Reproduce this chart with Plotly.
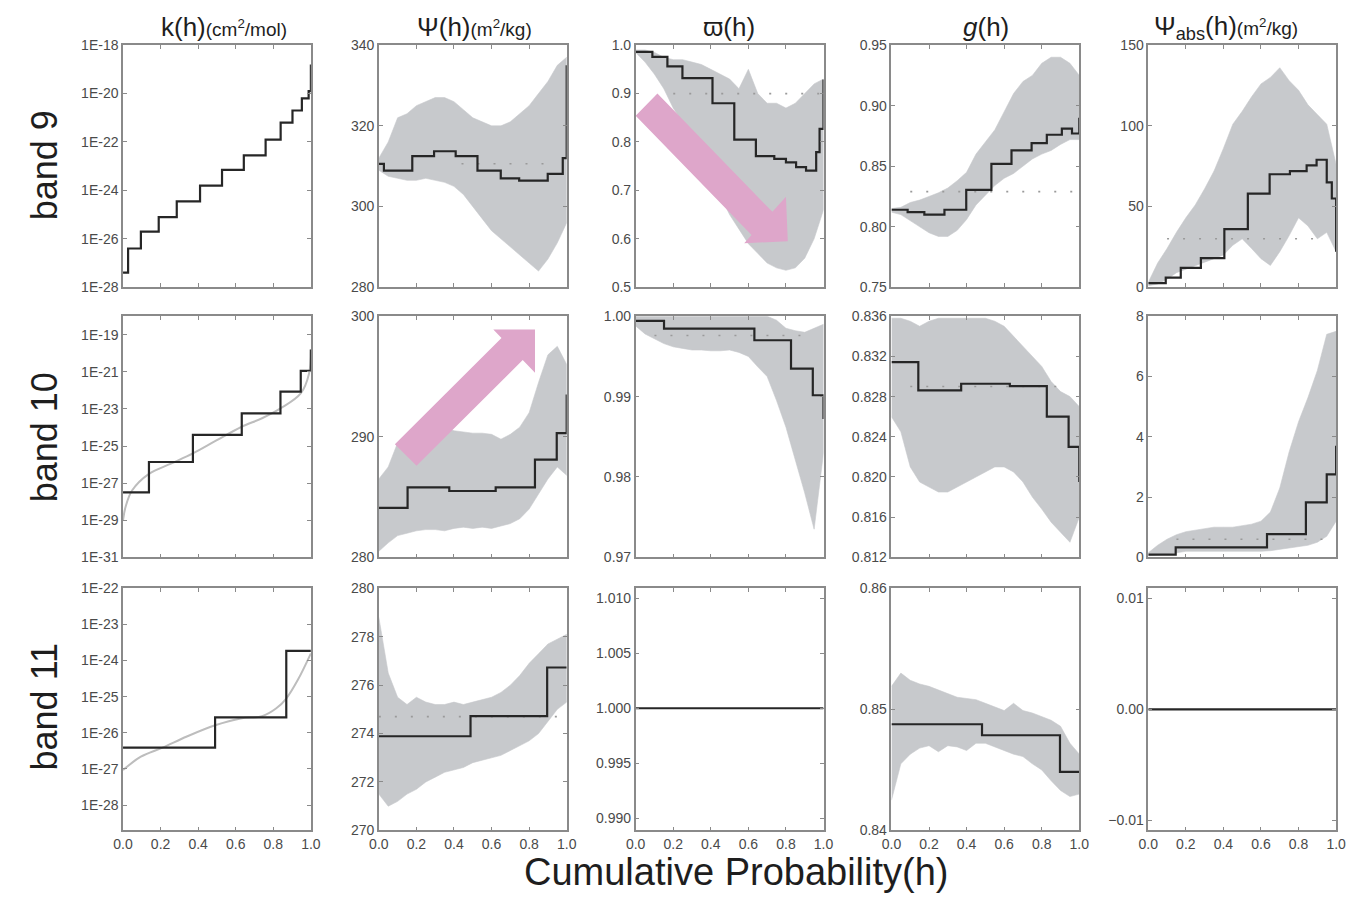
import plotly.graph_objects as go
from plotly.subplots import make_subplots

# the page is photographed with a small page margin and a slight scale; positions below are
# given as wanted picture pixels and converted to figure pixels here
PAGE_PAD = 8
SX, SY = 0.986, 0.982
FW, FH = 1358, 905


def px_x(x):
    return (x / SX - PAGE_PAD) / FW


def px_y(y):
    return 1 - (y / SY - PAGE_PAD) / FH


# ---------------- data ----------------
# cumulative probability positions at which the gray spread envelopes were read
g_pos = [0.0, 0.05, 0.1, 0.15, 0.2, 0.25, 0.3, 0.35, 0.4, 0.45, 0.5,
         0.55, 0.6, 0.65, 0.7, 0.75, 0.8, 0.85, 0.9, 0.95, 1.0]

x_tickvals = [0.0, 0.2, 0.4, 0.6, 0.8, 1.0]
x_ticktext = ["0.0", "0.2", "0.4", "0.6", "0.8", "1.0"]

column_titles = ["k(h)", "Ψ(h)", "ϖ(h)", "<i>g</i>(h)", "Ψ<sub>abs</sub>(h)"]
column_units = ["(cm<sup>2</sup>/mol)", "(m<sup>2</sup>/kg)", "", "", "(m<sup>2</sup>/kg)"]
row_titles = ["band 9", "band 10", "band 11"]
x_title = "Cumulative Probability(h)"

# ---- band 9 ----
b9_k_x = [0, 0.027, 0.095, 0.19, 0.286, 0.41, 0.527, 0.643, 0.759, 0.839, 0.902, 0.952, 0.988, 1.0]
b9_k_log10 = [-27.4, -26.4, -25.7, -25.1, -24.45, -23.8, -23.15, -22.55, -21.9, -21.2, -20.7, -20.2, -19.9, -18.8]

b9_psi_x = [0, 0.027, 0.178, 0.294, 0.409, 0.525, 0.649, 0.747, 0.899, 0.979, 1.0]
b9_psi_y = [310.6, 308.9, 312.5, 313.7, 312.5, 308.9, 307.0, 306.4, 308.1, 312.0, 335.0]
b9_psi_lo = [309, 307.5, 307, 306.5, 306.5, 307, 306.5, 306, 305, 303, 300, 297, 294, 292, 290, 288, 286, 284, 287, 291, 296]
b9_psi_hi = [312, 316, 322, 323, 325, 326, 327, 327, 326, 324, 322, 321, 320, 320, 321, 323, 325, 328, 331, 335, 337]
b9_psi_mean = [0.44, 0.9, 310.6]

b9_ssa_x = [0, 0.089, 0.169, 0.249, 0.409, 0.525, 0.64, 0.738, 0.80, 0.854, 0.907, 0.961, 0.979, 1.0]
b9_ssa_y = [0.986, 0.976, 0.956, 0.932, 0.88, 0.805, 0.771, 0.765, 0.758, 0.748, 0.741, 0.779, 0.827, 0.929]
b9_ssa_lo = [0.985, 0.965, 0.94, 0.91, 0.87, 0.84, 0.80, 0.77, 0.73, 0.69, 0.65, 0.62, 0.59, 0.57, 0.55, 0.54, 0.535, 0.54, 0.56, 0.6, 0.66]
b9_ssa_hi = [0.99, 0.99, 0.985, 0.975, 0.97, 0.97, 0.965, 0.96, 0.95, 0.94, 0.93, 0.91, 0.95, 0.9, 0.88, 0.88, 0.87, 0.88, 0.9, 0.92, 0.93]
b9_ssa_mean = [0.2, 1.0, 0.9]

b9_g_x = [0, 0.086, 0.175, 0.282, 0.398, 0.532, 0.639, 0.746, 0.827, 0.907, 0.961, 1.0]
b9_g_y = [0.814, 0.812, 0.810, 0.814, 0.8305, 0.852, 0.863, 0.869, 0.876, 0.881, 0.877, 0.89]
b9_g_lo = [0.812, 0.81, 0.805, 0.8, 0.795, 0.792, 0.792, 0.797, 0.806, 0.818, 0.826, 0.834, 0.84, 0.844, 0.85, 0.856, 0.86, 0.863, 0.868, 0.872, 0.872]
b9_g_hi = [0.815, 0.816, 0.82, 0.822, 0.825, 0.828, 0.832, 0.838, 0.845, 0.86, 0.87, 0.88, 0.895, 0.91, 0.92, 0.925, 0.935, 0.94, 0.94, 0.935, 0.925]
b9_g_mean = [0.1, 1.0, 0.829]

b9_abs_x = [0, 0.093, 0.173, 0.28, 0.405, 0.53, 0.646, 0.754, 0.843, 0.896, 0.95, 0.977, 1.0]
b9_abs_y = [2.5, 6, 12, 18, 36, 58, 70, 72, 75.5, 79, 65, 55, 22]
b9_abs_lo = [1, 2, 5, 9, 11, 13.5, 15.6, 17.7, 20, 26, 30, 24, 17.7, 13.5, 22, 32, 43, 38, 30, 34, 22]
b9_abs_hi = [3, 15, 24, 34, 43, 51, 61, 72, 86, 101, 109, 118, 126, 130, 136, 128, 122, 113, 107, 101, 76]
b9_abs_mean = [0.1, 0.9, 30]

# ---- band 10 ----
b10_k_x = [0, 0.138, 0.372, 0.632, 0.838, 0.946, 1.0]
b10_k_log10 = [-27.5, -25.86, -24.4, -23.24, -22.07, -20.95, -19.8]
b10_kcurve_x = [0, 0.013, 0.048, 0.138, 0.255, 0.372, 0.497, 0.632, 0.74, 0.838, 0.946, 0.99, 1.0]
b10_kcurve_log10 = [-29.0, -28.3, -27.4, -26.5, -25.95, -25.4, -24.7, -23.96, -23.5, -22.97, -22.16, -21.1, -19.8]

b10_psi_x = [0, 0.153, 0.375, 0.622, 0.831, 0.947, 1.0]
b10_psi_y = [284.1, 285.8, 285.5, 285.8, 288.1, 290.3, 293.5]
b10_psi_lo = [280.5, 281.2, 281.8, 282, 282.2, 282.3, 282.3, 282.2, 282.4, 282.5, 282.4, 282.5, 282.4, 282.6, 282.8, 283.2, 284, 285.2, 286.5, 287.5, 286.8]
b10_psi_hi = [286.5, 287.5, 289.5, 289.8, 290.2, 290.4, 290.8, 290.8, 290.5, 290.4, 290.3, 290.3, 290.2, 289.8, 290.2, 290.8, 292, 294.5, 296.8, 297.5, 296]

b10_ssa_x = [0, 0.151, 0.632, 0.827, 0.943, 1.0]
b10_ssa_y = [0.99942, 0.99846, 0.99701, 0.99349, 0.99017, 0.9872]
b10_ssa_lo = [0.9988, 0.9978, 0.9972, 0.9966, 0.9962, 0.996, 0.9958, 0.9958, 0.9957, 0.9957, 0.9958, 0.9955, 0.995, 0.9937, 0.9925, 0.9895, 0.9862, 0.982, 0.978, 0.9735, 0.983]
b10_ssa_hi = [1.0, 1.0, 1.0, 1.0, 1.0, 1.0, 1.0, 1.0, 1.0, 1.0, 1.0, 1.0, 1.0, 1.0, 1.0, 0.9995, 0.9985, 0.9982, 0.998, 0.9985, 0.999]
b10_ssa_mean = [0.1, 0.95, 0.9976]

b10_g_x = [0, 0.143, 0.371, 0.63, 0.827, 0.943, 1.0]
b10_g_y = [0.83143, 0.82862, 0.82928, 0.82905, 0.826, 0.823, 0.8195]
b10_g_lo = [0.826, 0.8245, 0.821, 0.8195, 0.819, 0.8185, 0.8185, 0.819, 0.8195, 0.82, 0.8205, 0.821, 0.821, 0.8205, 0.8195, 0.818, 0.8168, 0.8155, 0.8145, 0.8135, 0.816]
b10_g_hi = [0.8358, 0.8358, 0.8355, 0.835, 0.8355, 0.8358, 0.8358, 0.8358, 0.8358, 0.8358, 0.8358, 0.8355, 0.835, 0.834, 0.833, 0.832, 0.831, 0.8295, 0.8285, 0.828, 0.827]
b10_g_mean = [0.1, 0.95, 0.829]

b10_abs_x = [0, 0.146, 0.632, 0.839, 0.95, 1.0]
b10_abs_y = [0.09, 0.33, 0.77, 1.82, 2.75, 3.7]
b10_abs_lo = [0.05, 0.08, 0.1, 0.15, 0.2, 0.2, 0.2, 0.2, 0.2, 0.2, 0.2, 0.2, 0.2, 0.22, 0.25, 0.3, 0.35, 0.4, 0.5, 0.7, 1.2]
b10_abs_hi = [0.15, 0.4, 0.6, 0.75, 0.85, 0.9, 0.95, 1.0, 1.0, 1.0, 1.05, 1.1, 1.2, 1.5, 2.3, 3.5, 4.5, 5.3, 6.2, 7.4, 7.5]
b10_abs_mean = [0.15, 0.95, 0.6]

# ---- band 11 ----
b11_k_x = [0, 0.49, 0.869, 1.0]
b11_k_log10 = [-26.41, -25.57, -23.73, -23.73]
b11_kcurve_x = [0, 0.095, 0.21, 0.34, 0.49, 0.626, 0.74, 0.816, 0.869, 0.93, 1.0]
b11_kcurve_log10 = [-27.03, -26.66, -26.41, -26.1, -25.79, -25.6, -25.54, -25.32, -25.05, -24.54, -23.8]

b11_psi_x = [0, 0.488, 0.896, 1.0]
b11_psi_y = [273.89, 274.72, 276.73, 276.73]
b11_psi_lo = [271.5, 271.0, 271.2, 271.5, 271.7, 272.0, 272.2, 272.4, 272.5, 272.6, 272.8, 272.9, 273.0, 273.1, 273.3, 273.5, 273.7, 274.0, 274.5, 275.0, 275.3]
b11_psi_hi = [278.8, 276.5, 275.5, 275.2, 275.5, 275.3, 275.2, 275.2, 275.3, 275.2, 275.3, 275.4, 275.5, 275.7, 276, 276.4, 276.9, 277.3, 277.7, 277.9, 278.1]
b11_psi_mean = [0.0, 0.95, 274.7]

b11_ssa_x = [0, 1.0]
b11_ssa_y = [1.0, 1.0]

b11_g_x = [0, 0.482, 0.897, 1.0]
b11_g_y = [0.84877, 0.84786, 0.84483, 0.84483]
b11_g_lo = [0.8425, 0.8455, 0.8463, 0.8468, 0.847, 0.8465, 0.847, 0.8469, 0.8466, 0.8472, 0.8472, 0.8469, 0.8466, 0.8463, 0.8461, 0.8455, 0.845, 0.8441, 0.8433, 0.8428, 0.843]
b11_g_hi = [0.8519, 0.853, 0.8524, 0.8521, 0.8519, 0.8516, 0.8513, 0.851, 0.8509, 0.8508, 0.8505, 0.8502, 0.8499, 0.8505, 0.8499, 0.8497, 0.8494, 0.8491, 0.8486, 0.8472, 0.8463]

b11_abs_x = [0, 1.0]
b11_abs_y = [0.0, 0.0]

# axis ranges and ticks per panel (row, col)
y_ranges = {
    (1, 1): [-28, -18], (1, 2): [280, 340], (1, 3): [0.5, 1.0], (1, 4): [0.75, 0.95], (1, 5): [0, 150],
    (2, 1): [-31, -18], (2, 2): [280, 300], (2, 3): [0.97, 1.0], (2, 4): [0.812, 0.836], (2, 5): [0, 8],
    (3, 1): [-28.7, -22], (3, 2): [270, 280], (3, 3): [0.9889, 1.0109], (3, 4): [0.84, 0.86], (3, 5): [-0.0109, 0.0109],
}
y_ticks = {
    (1, 2): [280, 300, 320, 340], (1, 3): [0.5, 0.6, 0.7, 0.8, 0.9, 1.0], (1, 4): [0.75, 0.80, 0.85, 0.90, 0.95],
    (1, 5): [0, 50, 100, 150],
    (2, 2): [280, 290, 300], (2, 3): [0.97, 0.98, 0.99, 1.00], (2, 4): [0.812, 0.816, 0.820, 0.824, 0.828, 0.832, 0.836],
    (2, 5): [0, 2, 4, 6, 8],
    (3, 2): [270, 272, 274, 276, 278, 280], (3, 3): [0.990, 0.995, 1.000, 1.005, 1.010], (3, 4): [0.84, 0.85, 0.86],
    (3, 5): [-0.01, 0.0, 0.01],
}
y_tickformat = {
    (1, 2): "d", (1, 3): ".1f", (1, 4): ".2f", (1, 5): "d",
    (2, 2): "d", (2, 3): ".2f", (2, 4): ".3f", (2, 5): "d",
    (3, 2): "d", (3, 3): ".3f", (3, 4): ".2f", (3, 5): ".2f",
}
log_tick_exponents = {
    (1, 1): [-18, -20, -22, -24, -26, -28],
    (2, 1): [-19, -21, -23, -25, -27, -29, -31],
    (3, 1): [-22, -23, -24, -25, -26, -27, -28],
}

# ---------------- styling ----------------
FONT = "Liberation Sans, Arial, Helvetica, sans-serif"
BAND_GRAY = "#c7c9cc"
STEP_COLOR = "#262626"
FRAME = "#8a8a8a"
TICKTXT = "#4a4a4a"
PINK = "#dea6ca"

col_px = [(121, 309), (377, 565), (634, 822), (890, 1078), (1147, 1335)]
row_px = [(45, 287), (316, 557), (588, 830)]

fig = make_subplots(rows=3, cols=5)

panels = {
    (1, 1): dict(step=(b9_k_x, [10 ** v for v in b9_k_log10])),
    (1, 2): dict(step=(b9_psi_x, b9_psi_y), band=(b9_psi_lo, b9_psi_hi), mean=b9_psi_mean),
    (1, 3): dict(step=(b9_ssa_x, b9_ssa_y), band=(b9_ssa_lo, b9_ssa_hi), mean=b9_ssa_mean),
    (1, 4): dict(step=(b9_g_x, b9_g_y), band=(b9_g_lo, b9_g_hi), mean=b9_g_mean),
    (1, 5): dict(step=(b9_abs_x, b9_abs_y), band=(b9_abs_lo, b9_abs_hi), mean=b9_abs_mean),
    (2, 1): dict(step=(b10_k_x, [10 ** v for v in b10_k_log10]),
                 curve=(b10_kcurve_x, [10 ** v for v in b10_kcurve_log10])),
    (2, 2): dict(step=(b10_psi_x, b10_psi_y), band=(b10_psi_lo, b10_psi_hi)),
    (2, 3): dict(step=(b10_ssa_x, b10_ssa_y), band=(b10_ssa_lo, b10_ssa_hi), mean=b10_ssa_mean),
    (2, 4): dict(step=(b10_g_x, b10_g_y), band=(b10_g_lo, b10_g_hi), mean=b10_g_mean),
    (2, 5): dict(step=(b10_abs_x, b10_abs_y), band=(b10_abs_lo, b10_abs_hi), mean=b10_abs_mean),
    (3, 1): dict(step=(b11_k_x, [10 ** v for v in b11_k_log10]),
                 curve=(b11_kcurve_x, [10 ** v for v in b11_kcurve_log10])),
    (3, 2): dict(step=(b11_psi_x, b11_psi_y), band=(b11_psi_lo, b11_psi_hi), mean=b11_psi_mean),
    (3, 3): dict(step=(b11_ssa_x, b11_ssa_y)),
    (3, 4): dict(step=(b11_g_x, b11_g_y), band=(b11_g_lo, b11_g_hi)),
    (3, 5): dict(step=(b11_abs_x, b11_abs_y)),
}

for (r, c), p in panels.items():
    if "band" in p:
        lo, hi = p["band"]
        fig.add_trace(go.Scatter(x=g_pos + g_pos[::-1], y=hi + lo[::-1], fill="toself",
                                 fillcolor=BAND_GRAY, mode="lines", line=dict(width=0.6, color=BAND_GRAY),
                                 hoverinfo="skip", showlegend=False), row=r, col=c)
    if "curve" in p:
        cx, cy = p["curve"]
        fig.add_trace(go.Scatter(x=cx, y=cy, mode="lines", line=dict(color="#bdbdbd", width=2, shape="spline"),
                                 showlegend=False), row=r, col=c)
    if "mean" in p:
        x0, x1, yv = p["mean"]
        fig.add_trace(go.Scatter(x=[x0, x1], y=[yv, yv], mode="lines",
                                 line=dict(color="#9a9a9a", width=1.6, dash="2px,14px"),
                                 showlegend=False), row=r, col=c)
    sx, sy = p["step"]
    fig.add_trace(go.Scatter(x=sx, y=sy, mode="lines", line=dict(color=STEP_COLOR, width=2.2, shape="hv"),
                             showlegend=False), row=r, col=c)

# axes
for r in range(1, 4):
    for c in range(1, 6):
        idx = (r - 1) * 5 + c
        xs = "xaxis" if idx == 1 else f"xaxis{idx}"
        ys = "yaxis" if idx == 1 else f"yaxis{idx}"
        x0p, x1p = col_px[c - 1]
        y0p, y1p = row_px[r - 1]
        common = dict(showline=True, linecolor=FRAME, linewidth=1.5, mirror="ticks",
                      ticks="inside", ticklen=4, tickwidth=1, tickcolor=FRAME,
                      showgrid=False, zeroline=False,
                      tickfont=dict(family=FONT, size=14, color=TICKTXT))
        xa = dict(common, domain=[px_x(x0p), px_x(x1p)], range=[0, 1], tickmode="array",
                  tickvals=x_tickvals, ticktext=x_ticktext, showticklabels=(r == 3),
                  ticklabelstandoff=0)
        ya = dict(common, domain=[px_y(y1p), px_y(y0p)])
        if c == 1:
            exps = log_tick_exponents[(r, c)]
            ya.update(type="log", range=y_ranges[(r, c)], tickmode="array",
                      tickvals=[10 ** e for e in exps], ticktext=[f"1E{e}" for e in exps])
        else:
            ya.update(range=y_ranges[(r, c)], tickmode="array", tickvals=y_ticks[(r, c)],
                      tickformat=y_tickformat[(r, c)])
        fig.update_layout({xs: xa, ys: ya})

annotations = []
title_cx = [222, 473, 727, 985, 1225]
for i in range(5):
    txt = f"{column_titles[i]}"
    if column_units[i]:
        txt += f"<span style='font-size:19px'>{column_units[i]}</span>"
    annotations.append(dict(x=px_x(title_cx[i]), y=px_y(27), xref="paper", yref="paper", text=txt,
                            showarrow=False, xanchor="center", yanchor="middle",
                            font=dict(family=FONT, size=26, color="#1e1e1e")))
row_cy = [165, 437, 707]
for i in range(3):
    annotations.append(dict(x=px_x(42), y=px_y(row_cy[i]), xref="paper", yref="paper", text=row_titles[i],
                            showarrow=False, textangle=-90, xanchor="center", yanchor="middle",
                            font=dict(family=FONT, size=36, color="#1e1e1e")))
annotations.append(dict(x=px_x(735), y=px_y(872), xref="paper", yref="paper", text=x_title,
                        showarrow=False, xanchor="center", yanchor="middle",
                        font=dict(family=FONT, size=38, color="#1e1e1e")))

# pink block arrows (drawn in the data coordinates of their panels)
arrow1 = [(0.116, 0.9004), (0.728, 0.6557), (0.80, 0.687), (0.81, 0.595), (0.578, 0.591), (0.617, 0.6077), (0.0, 0.8542)]
arrow2 = [(0.0853, 289.38), (0.6528, 298.19), (0.6092, 298.90), (0.8313, 298.90), (0.8313, 295.31), (0.7659, 296.36), (0.2007, 287.59)]


def poly(pts):
    return "M " + " L ".join(f"{x},{y}" for x, y in pts) + " Z"


shapes = [
    dict(type="path", path=poly(arrow1), xref="x3", yref="y3", fillcolor=PINK, line=dict(width=0), layer="above"),
    dict(type="path", path=poly(arrow2), xref="x7", yref="y7", fillcolor=PINK, line=dict(width=0), layer="above"),
]

fig.update_layout(width=FW, height=FH, margin=dict(l=0, r=0, t=0, b=0),
                  paper_bgcolor="white", plot_bgcolor="white", showlegend=False,
                  annotations=annotations, shapes=shapes,
                  font=dict(family=FONT, color="#1e1e1e"))

fig.write_html("out.html")
